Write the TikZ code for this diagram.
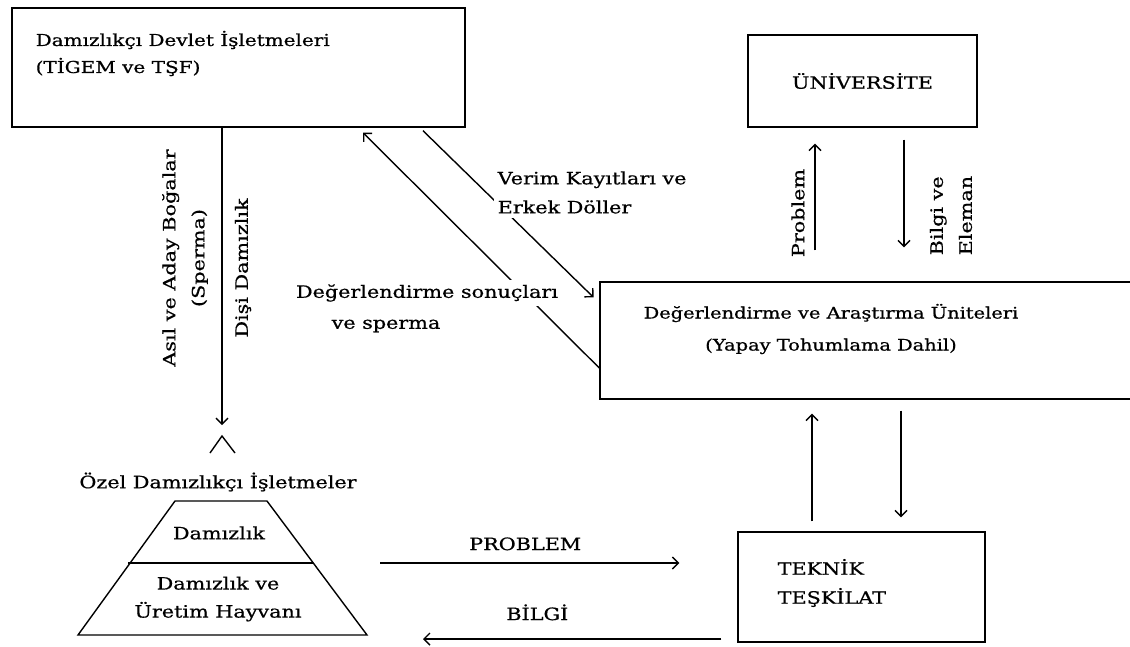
\documentclass[tikz,border=0pt]{standalone}
\usepackage{fontspec}
\setmainfont{DejaVu Serif}[FakeStretch=1.22, FakeBold=0.7]
\usetikzlibrary{arrows.meta}
\tikzstyle{every node}=[font=\fontsize{17}{29}\selectfont, inner sep=0pt]
\tikzstyle{box}=[draw, rectangle]
\tikzstyle{lblw}=[fill=white, inner sep=4pt]
\tikzstyle{flow}=[-{Straight Barb[length=6pt, width=12pt]}]

\begin{document}
\begin{tikzpicture}[x=1pt, y=-1pt, line width=1.4pt]
\useasboundingbox (0,0) rectangle (1130,646);
% Boxes
    \node[box, minimum width=453pt, minimum height=119pt] (dev) at (238.5,67.5) {};
    \node[box, minimum width=229pt, minimum height=92pt] (uni) at (862.5,81) {ÜNİVERSİTE};
    \node[box, minimum width=540pt, minimum height=117pt] (deger) at (870,340.5) {};
    \node[box, minimum width=247pt, minimum height=110pt] (teknik) at (861.5,587) {};
    \node[anchor=west, align=left, font=\fontsize{16.4}{27}\selectfont] (devtxt) at (35,53.5) {Damızlıkçı Devlet İşletmeleri\\(TİGEM ve TŞF)};
    \node[align=center, font=\fontsize{15.9}{32}\selectfont] (degertxt) at (831,329) {Değerlendirme ve Araştırma Üniteleri\\(Yapay Tohumlama Dahil)};
    \node[anchor=west, align=left] (tektxt) at (777,583) {TEKNİK\\TEŞKİLAT};
% Pyramid
    \coordinate (midR) at (313,563);
    \coordinate (botR) at (367,635);
    \draw (175,501) -- (267,501) -- (botR) -- (78,635) -- cycle;
    \draw (128,563) -- (midR);
    \node (ozel) at (218,482) {Özel Damızlıkçı İşletmeler};
    \node (damizlik) at (219,533) {Damızlık};
    \node[align=center, font=\fontsize{17}{28}\selectfont] (uretim) at (218,599) {Damızlık ve\\Üretim Hayvanı};
% Down to the private farms
    \coordinate (apex) at (222,425);
    \draw[flow] (dev.south -| apex) -- (apex);
    \draw (210,453) -- (222,436) -- (235,453);
    \node[rotate=90, align=center] (asil) at (185,258) {Asıl ve Aday Boğalar\\(Sperma)};
    \node[rotate=90] (disi) at (243,268) {Dişi Damızlık};
% Diagonals
    \draw[flow] ([yshift=-27.5pt]deger.west) -- ([xshift=124.5pt,yshift=-5pt]dev.south);
    \draw[flow, shorten >=8pt] ([xshift=184.5pt,yshift=-3pt]dev.south) -- ([yshift=37.5pt]deger.west);
    \node[lblw, anchor=west, align=left] (verim) at (493,192.5) {Verim Kayıtları ve\\Erkek Döller};
    \node[lblw] (sonuc) at (427,293) {Değerlendirme sonuçları};
    \node (sperma) at (386,326) {ve sperma};
% University and technical staff
    \coordinate (xa) at (815,0);
    \coordinate (xb) at (904,0);
    \coordinate (xc) at (812,0);
    \coordinate (xd) at (901,0);
    \draw[flow, shorten <=31pt, shorten >=16pt] (xa |- deger.north) -- (xa |- uni.south);
    \draw[flow, shorten <=12pt, shorten >=34pt] (xb |- uni.south) -- (xb |- deger.north);
    \draw[flow, shorten <=10pt, shorten >=14pt] (xc |- teknik.north) -- (xc |- deger.south);
    \draw[flow, shorten <=11pt, shorten >=14pt] (xd |- deger.south) -- (xd |- teknik.north);
    \node[rotate=90] (prob) at (798,213) {Problem};
    \node[rotate=90, anchor=west, align=left] (bilgi) at (951,256) {Bilgi ve\\Eleman};
% Problem and information flow
    \coordinate (yb) at (0,639);
    \draw[flow, shorten <=67pt, shorten >=58pt] (midR) -- (teknik.west |- midR) node[midway, above=12pt] {PROBLEM};
    \draw[flow, shorten <=16pt, shorten >=56pt] (teknik.west |- yb) -- (botR |- yb) node[pos=0.54, above=18pt] {BİLGİ};
\end{tikzpicture}
\end{document}
